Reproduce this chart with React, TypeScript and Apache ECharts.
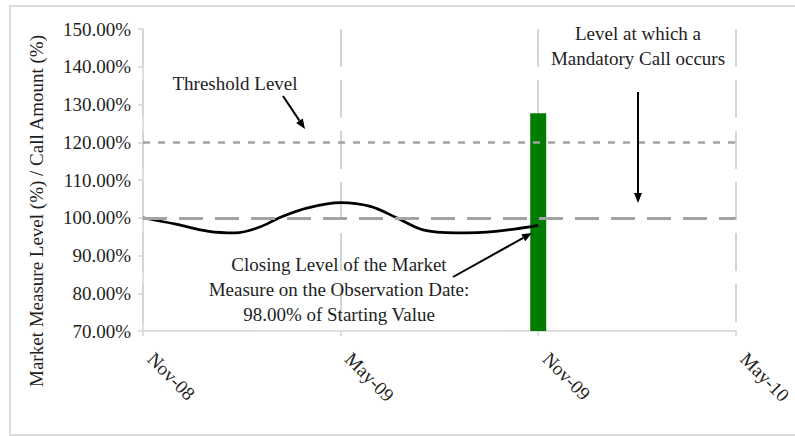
import React, { useEffect, useRef } from "react";
import * as echarts from "echarts";

const tickLabels = ["Nov-08", "May-09", "Nov-09", "May-10"];
const months = [0, 1, 2, 2.8, 3.5, 4.2, 5, 6, 6.9, 7.7, 8.5, 9.5, 10.7, 12];
const levels = [100, 98.3, 96.4, 96.0, 97.4, 100.2, 102.6, 104, 103, 100, 96.8, 96.0, 96.4, 98];
const callMonth = [12];
const callAmount = [127.7];
const thresholdLevel = 120;
const startingLevel = 100;

const FONT = "Liberation Serif";
const TXT = "#1e1e1e";
const FS = 19;

function arrow(x1: number, y1: number, x2: number, y2: number): any[] {
  const a = Math.atan2(y2 - y1, x2 - x1);
  const L = 10, W = 4;
  const c = Math.cos(a), s = Math.sin(a);
  const bx = x2 - L * c, by = y2 - L * s;
  return [
    { type: "line", shape: { x1, y1, x2: bx, y2: by }, style: { stroke: "#000", lineWidth: 2 }, z: 20 },
    {
      type: "polygon",
      shape: { points: [[x2, y2], [bx + W * s, by - W * c], [bx - W * s, by + W * c]] },
      style: { fill: "#000" },
      z: 20,
    },
  ];
}

function txt(text: string, x: number, y: number, extra: any = {}): any {
  return {
    type: "text",
    x,
    y,
    z: 20,
    style: { text, fill: TXT, font: `${FS}px "${FONT}"`, align: "center", verticalAlign: "middle" },
    ...extra,
  };
}

export default function App() {
  const ref = useRef<HTMLDivElement>(null);
  useEffect(() => {
    const chart = echarts.init(ref.current!, null, { renderer: "svg" });
    chart.setOption({
      animation: false,
      backgroundColor: "#fff",
      grid: { left: 143, right: 57, top: 29, bottom: 105 },
      xAxis: {
        type: "value",
        min: 0,
        max: 18,
        interval: 6,
        axisLine: { show: true, onZero: false, lineStyle: { color: "#d4d4d4", width: 1.5 } },
        axisTick: { show: true, length: 5, lineStyle: { color: "#d4d4d4", width: 1.5 } },
        axisLabel: {
          rotate: -45,
          margin: 17,
          padding: [0, 0, 0, 11],
          color: TXT,
          fontFamily: FONT,
          fontSize: FS,
          formatter: (v: number) => tickLabels[Math.round(v / 6)] ?? "",
        },
        splitLine: { show: true, lineStyle: { color: "#c8c8c8", width: 1.5, type: [38, 13] } },
      },
      yAxis: {
        type: "value",
        min: 70,
        max: 150,
        interval: 10,
        axisLine: { show: true, lineStyle: { color: "#d4d4d4", width: 1.5 } },
        axisTick: { show: true, length: 5, lineStyle: { color: "#d4d4d4", width: 1.5 } },
        axisLabel: {
          margin: 12,
          color: TXT,
          fontFamily: FONT,
          fontSize: FS,
          formatter: (v: number) => `${v.toFixed(2)}%`,
        },
        splitLine: { show: false },
      },
      series: [
        {
          type: "bar",
          data: callMonth.map((m, i) => [m, callAmount[i]]),
          barWidth: 16,
          itemStyle: { color: "#007d00" },
          z: 2,
        },
        {
          type: "line",
          data: months.map((m, i) => [m, levels[i]]),
          smooth: 0.35,
          showSymbol: false,
          symbol: "none",
          lineStyle: { color: "#000", width: 2.7 },
          z: 3,
          markLine: {
            silent: true,
            symbol: ["none", "none"],
            label: { show: false },
            z: 6,
            data: [
              { yAxis: startingLevel, lineStyle: { color: "#a3a3a3", width: 3, type: [24, 12] } },
              { yAxis: thresholdLevel, lineStyle: { color: "#a3a3a3", width: 2.5, type: [7, 8] } },
            ],
          },
        },
      ],
      graphic: [
        {
          type: "rect",
          shape: { x: 10, y: 6, width: 790, height: 429 },
          style: { fill: "none", stroke: "#dcdcdc", lineWidth: 2 },
          z: -1,
        },
        txt("Market Measure Level (%) / Call Amount (%)", 36, 211, { rotation: Math.PI / 2 }),
        txt("Threshold Level", 235, 83),
        txt("Level at which a", 638, 33),
        txt("Mandatory Call occurs", 638, 58),
        txt("Closing Level of the Market", 339, 264),
        txt("Measure on the Observation Date:", 339, 289),
        txt("98.00% of Starting Value", 339, 314),
        ...arrow(283, 96, 305, 129),
        ...arrow(638, 92, 638, 203),
        ...arrow(453, 277, 532, 233),
      ],
    });
    return () => chart.dispose();
  }, []);
  return <div ref={ref} style={{ position: "fixed", left: 0, top: 0, width: 795, height: 436 }} />;
}
